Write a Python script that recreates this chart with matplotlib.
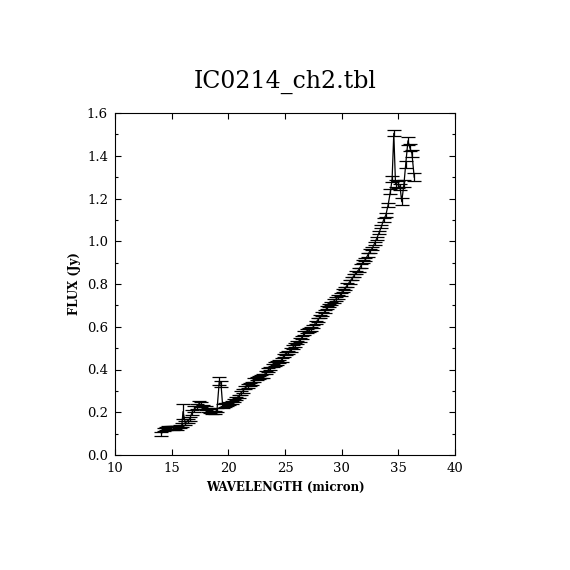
import numpy as np
import matplotlib
matplotlib.use("Agg")
import matplotlib.pyplot as plt
from matplotlib.ticker import MultipleLocator

# spectrum
wave = [14.1, 14.3, 14.5, 14.7, 14.9, 15.1, 15.3, 15.5, 15.7, 15.9,
        16.0, 16.2, 16.4, 16.6, 16.8, 17.0, 17.2, 17.4, 17.6, 17.8,
        18.0, 18.2, 18.4, 18.6, 18.8, 19.0, 19.2, 19.35, 19.5, 19.7,
        19.9, 20.1, 20.3, 20.5, 20.7, 20.9, 21.1, 21.3, 21.5, 21.7,
        21.9, 22.1, 22.3, 22.5, 22.7, 22.9, 23.1, 23.3, 23.5, 23.7,
        23.9, 24.1, 24.3, 24.5, 24.7, 24.9, 25.1, 25.3, 25.5, 25.7,
        25.9, 26.1, 26.3, 26.5, 26.7, 26.9, 27.1, 27.3, 27.5, 27.7,
        27.9, 28.1, 28.3, 28.5, 28.7, 28.9, 29.1, 29.3, 29.5, 29.7,
        29.9, 30.1, 30.3, 30.5, 30.7, 30.9, 31.1, 31.3, 31.5, 31.7,
        31.9, 32.1, 32.3, 32.5, 32.7, 32.9, 33.1, 33.3, 33.5, 33.7,
        33.9, 34.1, 34.3, 34.45, 34.6, 34.75, 34.95, 35.15, 35.3, 35.5,
        35.65, 35.85, 36.0, 36.2, 36.4]
flux = [0.100, 0.118, 0.125, 0.128, 0.128, 0.127, 0.128, 0.127, 0.132, 0.140,
        0.203, 0.150, 0.160, 0.170, 0.200, 0.215, 0.225, 0.240, 0.235, 0.225,
        0.220, 0.210, 0.205, 0.200, 0.200, 0.210, 0.345, 0.334, 0.230, 0.235,
        0.235, 0.240, 0.245, 0.255, 0.265, 0.275, 0.290, 0.300, 0.315, 0.322,
        0.330, 0.335, 0.350, 0.358, 0.362, 0.366, 0.370, 0.385, 0.397, 0.405,
        0.418, 0.425, 0.430, 0.437, 0.445, 0.465, 0.476, 0.480, 0.491, 0.505,
        0.515, 0.525, 0.538, 0.550, 0.570, 0.580, 0.585, 0.590, 0.600, 0.620,
        0.632, 0.647, 0.660, 0.670, 0.690, 0.700, 0.710, 0.720, 0.730, 0.740,
        0.750, 0.770, 0.780, 0.795, 0.810, 0.825, 0.840, 0.855, 0.866, 0.885,
        0.905, 0.915, 0.935, 0.955, 0.967, 0.990, 1.014, 1.040, 1.068, 1.100,
        1.123, 1.170, 1.232, 1.290, 1.505, 1.270, 1.265, 1.255, 1.185, 1.270,
        1.360, 1.470, 1.440, 1.410, 1.300]
err = [0.009, 0.008, 0.008, 0.008, 0.008, 0.008, 0.008, 0.008, 0.008, 0.008,
       0.034, 0.010, 0.010, 0.010, 0.012, 0.012, 0.012, 0.012, 0.012, 0.010,
       0.010, 0.010, 0.008, 0.008, 0.008, 0.010, 0.018, 0.014, 0.010, 0.010,
       0.008, 0.008, 0.008, 0.008, 0.008, 0.008, 0.008, 0.008, 0.008, 0.008,
       0.008, 0.008, 0.008, 0.008, 0.008, 0.008, 0.008, 0.008, 0.008, 0.008,
       0.008, 0.008, 0.008, 0.008, 0.008, 0.008, 0.008, 0.008, 0.008, 0.008,
       0.008, 0.008, 0.008, 0.008, 0.008, 0.008, 0.008, 0.008, 0.008, 0.008,
       0.008, 0.008, 0.008, 0.008, 0.008, 0.008, 0.008, 0.008, 0.008, 0.008,
       0.008, 0.008, 0.008, 0.008, 0.008, 0.008, 0.008, 0.008, 0.008, 0.008,
       0.008, 0.008, 0.008, 0.008, 0.008, 0.008, 0.008, 0.008, 0.008, 0.010,
       0.010, 0.010, 0.012, 0.014, 0.014, 0.015, 0.015, 0.015, 0.016, 0.016,
       0.016, 0.018, 0.017, 0.016, 0.017]

title = "IC0214_ch2.tbl"

fig = plt.figure(figsize=(5.7, 5.7), dpi=100)
ax = fig.add_axes([115 / 570, 115 / 570, 340 / 570, 342 / 570])

ax.errorbar(wave, flux, yerr=err, color="black", lw=0.9, elinewidth=0.9,
            capsize=4.7, capthick=0.9)

ax.set_xlim(10, 40)
ax.set_ylim(0, 1.6)
ax.xaxis.set_major_locator(MultipleLocator(5))
ax.yaxis.set_major_locator(MultipleLocator(0.2))
ax.yaxis.set_minor_locator(MultipleLocator(0.1))
ax.yaxis.set_major_formatter(plt.FuncFormatter(lambda v, p: "%.1f" % v))
ax.tick_params(which="both", direction="in", top=True, right=True,
               width=0.8, labelsize=9.5, pad=5)
ax.tick_params(which="major", length=4.5)
ax.tick_params(which="minor", length=2)
for lab in ax.get_xticklabels() + ax.get_yticklabels():
    lab.set_family("DejaVu Serif")
for s in ax.spines.values():
    s.set_linewidth(0.8)

ax.set_xlabel("WAVELENGTH (micron)", family="DejaVu Serif", weight="bold",
              fontsize=8.5, labelpad=4)
ax.set_ylabel("FLUX (Jy)", family="DejaVu Serif", weight="bold",
              fontsize=8.5, labelpad=4)

fig.text(0.5, 1 - 82 / 570, title, ha="center", va="center",
         family="DejaVu Serif", fontsize=17)

fig.savefig("out.png", dpi=100, facecolor="white")
